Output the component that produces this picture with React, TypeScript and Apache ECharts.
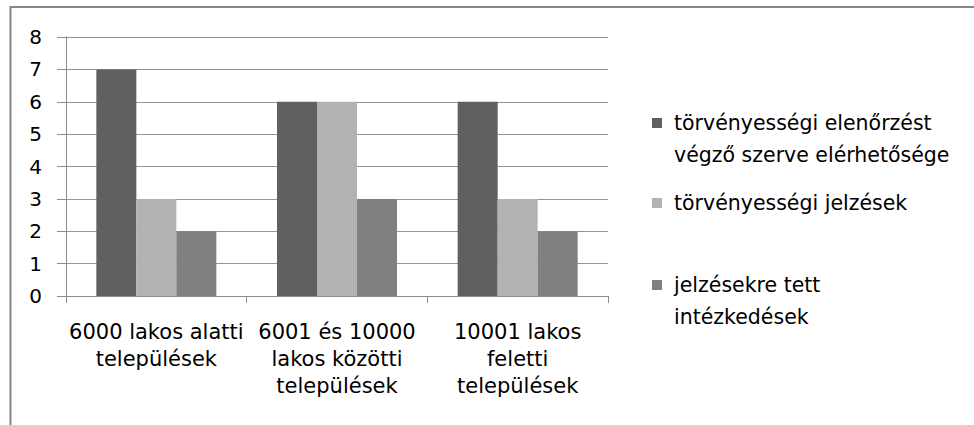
import { useEffect, useRef } from "react";
import * as echarts from "echarts";

const categories = [
  "6000 lakos alatti\ntelepülések",
  "6001 és 10000\nlakos közötti\ntelepülések",
  "10001 lakos\nfeletti\ntelepülések",
];
const seriesNames = [
  "törvényességi elenőrzést\nvégző szerve elérhetősége",
  "törvényességi jelzések",
  "jelzésekre tett\nintézkedések",
];
const elerhetoseg = [7, 6, 6];
const jelzesek = [3, 6, 3];
const intezkedesek = [2, 3, 2];
const seriesColors = ["#606060", "#b2b2b2", "#808080"];
const yMin = 0;
const yMax = 8;
const yInterval = 1;

const FONT = "DejaVu Sans";

export default function App() {
  const ref = useRef<HTMLDivElement>(null);
  useEffect(() => {
    if (!ref.current) return;
    const chart = echarts.init(ref.current, undefined, { renderer: "svg" });
    const values = [elerhetoseg, jelzesek, intezkedesek];
    const LH = 32;
    const LFS = 20.5;
    const XFS = 21;
    const legendTops = [75, 187, 237];
    chart.setOption({
      animation: false,
      backgroundColor: "#ffffff",
      textStyle: { fontFamily: FONT },
      grid: {
        left: 66,
        right: 366,
        top: 37,
        bottom: 129,
        outerBoundsMode: "none",
        containLabel: false,
      },
      legend: seriesNames.map((n, i) => ({
        data: [n],
        left: 652,
        top: legendTops[i],
        padding: 0,
        icon: "rect",
        itemWidth: 10,
        itemHeight: 10,
        selectedMode: false,
        formatter: (name: string) => {
          const lines = name.split("\n").map((l) => "{p|}" + l);
          return (lines.length > 1 ? "\n" : "") + lines.join("\n");
        },
        textStyle: {
          fontFamily: FONT,
          fontSize: LFS,
          color: "#000",
          lineHeight: LH,
          rich: {
            p: { width: 7, lineHeight: LH, fontSize: LFS, fontFamily: FONT },
          },
        },
      })),
      xAxis: {
        type: "category",
        data: categories,
        axisLine: { show: true, lineStyle: { color: "#8c8c8c", width: 1 } },
        axisTick: { show: true, length: 7, lineStyle: { color: "#8c8c8c" } },
        axisLabel: {
          interval: 0,
          margin: 22,
          fontFamily: FONT,
          fontSize: XFS,
          lineHeight: 27,
          color: "#000",
        },
      },
      yAxis: {
        type: "value",
        min: yMin,
        max: yMax,
        interval: yInterval,
        axisLine: { show: true, lineStyle: { color: "#8c8c8c", width: 1 } },
        axisTick: { show: true, length: 9, lineStyle: { color: "#8c8c8c" } },
        splitLine: { show: true, lineStyle: { color: "#959595", width: 1 } },
        axisLabel: {
          margin: 24,
          fontFamily: FONT,
          fontSize: 20,
          color: "#000",
        },
      },
      graphic: [
        {
          type: "rect",
          silent: true,
          z: 100,
          shape: { x: 10.5, y: 7, width: 1200, height: 800 },
          style: { fill: "none", stroke: "#868686", lineWidth: 2 },
        },
      ],
      series: seriesNames.map((n, i) => ({
        name: n,
        type: "bar",
        data: values[i],
        barWidth: 40,
        barGap: "0%",
        itemStyle: { color: seriesColors[i] },
      })),
    });
    return () => chart.dispose();
  }, []);
  return (
    <div
      ref={ref}
      style={{ position: "absolute", left: 0, top: 0, width: 974, height: 425 }}
    />
  );
}
